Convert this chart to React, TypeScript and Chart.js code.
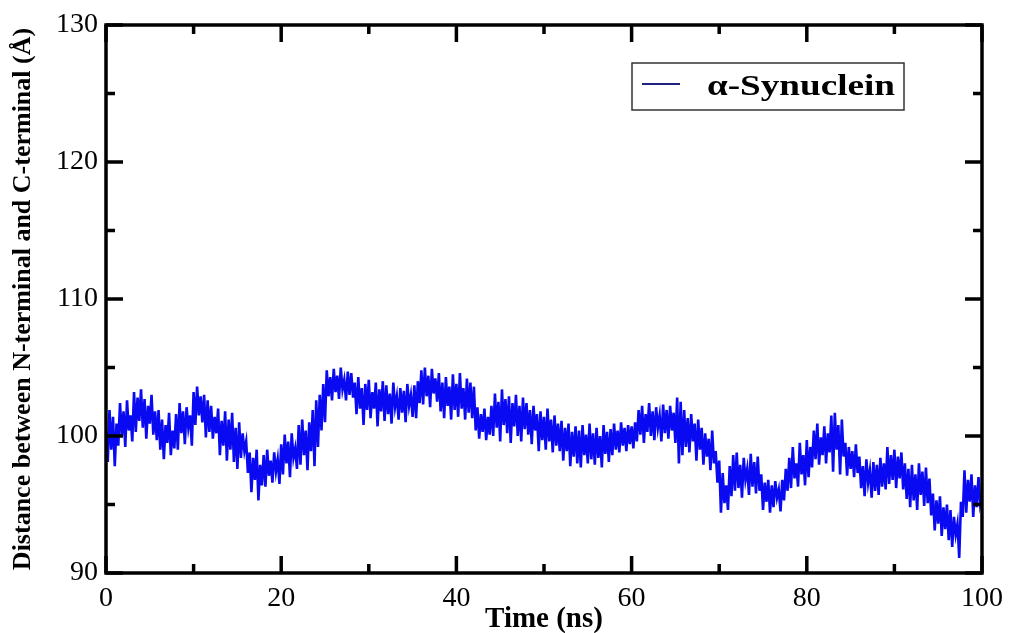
import React, { useEffect, useRef } from "react";
import { Chart, registerables } from "chart.js";

Chart.register(...registerables);

// Sampling interval of the trajectory (ns)
const SAMPLE_STEP = 0.2;

// End-to-end distance (Å), one value per SAMPLE_STEP from 0 to 100 ns (10 values = 2 ns per row)
const distanceValues: number[] = [
  100.2, 98.1, 101.9, 99.0, 101.4, 97.8, 100.9, 99.3, 102.4, 100.0,
  101.8, 99.2, 102.6, 100.4, 101.5, 99.6, 103.2, 100.3, 102.8, 101.1,
  103.4, 100.6, 102.7, 99.8, 102.2, 100.9, 103.0, 100.1, 101.8, 99.7,
  101.9, 99.0, 101.2, 98.3, 100.8, 99.5, 101.7, 98.6, 100.4, 99.1,
  101.6, 99.0, 102.4, 100.2, 101.8, 99.4, 102.1, 100.6, 101.5, 99.3,
  103.2, 100.8, 103.6, 101.5, 102.9, 101.0, 103.0, 99.9, 102.6, 100.3,
  102.2, 99.8, 101.4, 100.2, 102.0, 98.6, 101.1, 99.3, 101.8, 98.2,
  101.2, 99.0, 101.7, 98.1, 100.6, 97.6, 101.0, 98.4, 100.2, 98.9,
  99.6, 97.3, 98.8, 95.9, 98.4, 96.8, 99.0, 95.3, 97.9, 96.4,
  98.6, 96.3, 99.0, 97.1, 98.2, 96.6, 98.8, 97.4, 98.3, 96.5,
  99.4, 97.2, 100.1, 98.0, 99.6, 97.0, 100.2, 98.4, 99.1, 97.6,
  100.8, 97.9, 101.2, 98.6, 100.4, 97.5, 101.0, 98.9, 101.9, 97.8,
  102.6, 99.2, 103.0, 100.4, 103.8, 101.0, 104.8, 102.9, 104.3, 102.6,
  104.9, 103.2, 104.4, 102.7, 105.0, 103.4, 104.1, 102.6, 104.7, 103.0,
  104.6, 102.8, 103.9, 101.6, 104.3, 102.0, 103.5, 100.8, 103.8, 101.9,
  104.1, 101.3, 103.2, 102.0, 103.9, 100.7, 103.4, 101.8, 104.0, 101.1,
  103.7, 101.6, 103.1, 100.9, 103.9, 102.1, 102.9, 101.2, 103.5, 101.7,
  103.3, 101.0, 103.8, 102.2, 103.0, 101.4, 103.7, 101.3, 104.0, 102.4,
  104.8, 102.3, 105.0, 102.9, 104.4, 102.1, 104.9, 103.1, 104.2, 102.5,
  104.6, 101.8, 103.9, 101.3, 104.3, 102.2, 103.6, 101.2, 104.5, 101.9,
  103.8, 101.4, 104.6, 102.0, 103.5, 101.2, 104.2, 101.7, 103.9, 101.3,
  103.6, 100.4, 102.1, 99.8, 101.6, 100.3, 102.0, 99.7, 101.4, 100.1,
  102.2, 100.0, 103.1, 100.6, 102.5, 99.6, 103.4, 100.8, 102.7, 100.2,
  102.9, 99.5, 102.4, 100.7, 103.0, 100.0, 102.2, 99.6, 102.8, 100.5,
  102.4, 100.1, 101.9, 99.4, 102.2, 100.4, 101.6, 98.9, 101.8, 99.7,
  101.4, 99.0, 102.0, 99.6, 101.2, 98.8, 101.5, 99.3, 100.9, 98.9,
  101.1, 98.2, 100.6, 98.9, 100.9, 97.8, 100.3, 98.5, 100.7, 98.0,
  100.4, 97.7, 100.8, 98.6, 100.1, 98.0, 100.9, 98.3, 100.2, 97.9,
  100.6, 98.4, 100.0, 97.7, 100.8, 98.7, 100.3, 98.1, 100.5, 98.6,
  100.9, 99.0, 100.4, 98.8, 101.0, 99.3, 100.6, 98.9, 100.8, 99.4,
  100.7, 99.1, 101.0, 99.6, 101.9, 100.1, 102.2, 99.5, 101.6, 100.3,
  102.4, 100.0, 101.8, 99.7, 102.1, 100.6, 101.5, 99.6, 102.3, 100.2,
  101.9, 99.8, 102.2, 100.4, 101.7, 99.5, 102.8, 98.0, 102.5, 98.6,
  101.9, 99.2, 101.3, 98.8, 101.6, 99.6, 100.9, 98.2, 101.2, 99.0,
  100.6, 97.9, 100.2, 98.5, 99.8, 97.5, 100.4, 98.0, 98.9, 96.6,
  98.2, 94.4, 97.3, 95.1, 96.4, 94.6, 97.8, 95.6, 98.6, 96.0,
  98.8, 96.2, 97.9, 95.5, 98.4, 96.8, 97.6, 95.7, 98.7, 96.3,
  98.1, 95.8, 98.5, 96.0, 97.2, 94.6, 96.6, 95.2, 96.8, 94.4,
  96.4, 94.8, 96.7, 95.5, 96.1, 94.5, 96.8, 95.3, 97.6, 96.0,
  98.4, 96.2, 99.2, 96.9, 98.0, 96.3, 99.5, 97.2, 98.6, 96.4,
  99.7, 97.0, 99.2, 97.7, 100.4, 98.3, 100.9, 97.9, 99.9, 98.6,
  100.7, 98.0, 100.2, 98.8, 101.5, 97.4, 101.7, 99.0, 100.8, 97.2,
  101.2, 98.5, 99.5, 97.1, 99.2, 97.6, 98.9, 97.0, 99.4, 97.3,
  98.5, 96.2, 97.8, 95.6, 98.3, 96.6, 97.5, 95.5, 98.1, 96.0,
  97.9, 95.7, 98.4, 96.3, 98.0, 96.1, 99.2, 96.5, 98.6, 96.8,
  99.0, 96.2, 98.5, 96.9, 98.8, 96.1, 98.0, 95.4, 97.6, 94.8,
  97.9, 95.3, 97.2, 94.6, 98.0, 95.7, 97.4, 94.9, 97.7, 95.1,
  96.9, 94.2, 95.8, 93.1, 95.3, 93.6, 95.6, 92.7, 94.8, 93.2,
  95.0, 92.4, 94.6, 91.9, 94.1, 92.8, 93.6, 91.1, 95.2, 94.1,
  97.5, 94.4, 96.8, 95.2, 97.2, 94.1, 96.4, 94.8, 97.0, 95.0,
  95.6,
];

const SERIES_LABEL = "α-Synuclein";
const X_TITLE = "Time (ns)";
const Y_TITLE = "Distance between N-terminal and C-terminal (Å)";

const X_MAJOR_TICKS = [0, 20, 40, 60, 80, 100];
const X_MINOR_TICKS = [10, 30, 50, 70, 90];
const Y_MAJOR_TICKS = [90, 100, 110, 120, 130];
const Y_MINOR_TICKS = [95, 105, 115, 125];

const SERIF = "'Liberation Serif', 'Times New Roman', serif";

const frameTicksPlugin = {
  id: "frameTicks",
  afterDatasetsDraw(chart: any) {
    const { ctx, chartArea, scales } = chart;
    const { left, right, top, bottom } = chartArea;
    const x = scales.x;
    const y = scales.y;
    const major = 17;
    const minor = 9;
    ctx.save();
    ctx.strokeStyle = "#000";
    ctx.lineWidth = 3.5;
    ctx.lineCap = "butt";
    const vTick = (v: number, len: number) => {
      const px = x.getPixelForValue(v);
      ctx.beginPath();
      ctx.moveTo(px, bottom);
      ctx.lineTo(px, bottom - len);
      ctx.moveTo(px, top);
      ctx.lineTo(px, top + len);
      ctx.stroke();
    };
    const hTick = (v: number, len: number) => {
      const py = y.getPixelForValue(v);
      ctx.beginPath();
      ctx.moveTo(left, py);
      ctx.lineTo(left + len, py);
      ctx.moveTo(right, py);
      ctx.lineTo(right - len, py);
      ctx.stroke();
    };
    X_MAJOR_TICKS.forEach((v) => vTick(v, major));
    X_MINOR_TICKS.forEach((v) => vTick(v, minor));
    Y_MAJOR_TICKS.forEach((v) => hTick(v, major));
    Y_MINOR_TICKS.forEach((v) => hTick(v, minor));
    ctx.strokeRect(left, top, right - left, bottom - top);
    ctx.restore();
  },
  afterDraw(chart: any) {
    const { ctx } = chart;
    const label = chart.data.datasets[0].label;
    ctx.save();
    const bx = 632;
    const by = 63;
    const bw = 272;
    const bh = 47;
    ctx.fillStyle = "#fff";
    ctx.fillRect(bx, by, bw, bh);
    ctx.strokeStyle = "#333";
    ctx.lineWidth = 1.5;
    ctx.strokeRect(bx, by, bw, bh);
    ctx.strokeStyle = "#202080";
    ctx.lineWidth = 2;
    ctx.beginPath();
    ctx.moveTo(642, 84);
    ctx.lineTo(680, 84);
    ctx.stroke();
    ctx.fillStyle = "#000";
    ctx.font = `bold 30px ${SERIF}`;
    ctx.textBaseline = "middle";
    ctx.textAlign = "left";
    const w = ctx.measureText(label).width;
    const targetW = 188;
    ctx.translate(707, 87);
    ctx.scale(targetW / w, 1);
    ctx.fillText(label, 0, 0);
    ctx.restore();
  },
};

export default function App() {
  const canvasRef = useRef<HTMLCanvasElement | null>(null);

  useEffect(() => {
    const canvas = canvasRef.current;
    if (!canvas) return;
    const points = distanceValues.map((v, i) => ({ x: i * SAMPLE_STEP, y: v }));
    const chart = new Chart(canvas, {
      type: "line",
      data: {
        datasets: [
          {
            label: SERIES_LABEL,
            data: points,
            borderColor: "#0a0af2",
            borderWidth: 2.6,
            pointRadius: 0,
            tension: 0,
            fill: false,
          },
        ],
      },
      options: {
        responsive: false,
        animation: false,
        layout: { padding: { left: 0, top: 25, right: 27, bottom: 0 } },
        plugins: {
          legend: { display: false },
          tooltip: { enabled: false },
        },
        scales: {
          x: {
            type: "linear",
            min: 0,
            max: 100,
            grid: { display: false, drawTicks: false },
            border: { display: false },
            ticks: {
              stepSize: 20,
              padding: 9,
              color: "#000",
              font: { family: SERIF, size: 28 },
              maxRotation: 0,
            },
            title: {
              display: true,
              text: X_TITLE,
              color: "#000",
              font: { family: SERIF, size: 29, weight: "bold" },
              padding: { top: 0, bottom: -4 },
            },
            afterFit(scale: any) {
              scale.height = 60;
            },
          },
          y: {
            type: "linear",
            min: 90,
            max: 130,
            grid: { display: false, drawTicks: false },
            border: { display: false },
            ticks: {
              stepSize: 10,
              padding: 8,
              color: "#000",
              font: { family: SERIF, size: 28 },
            },
            title: {
              display: true,
              text: Y_TITLE,
              color: "#000",
              font: { family: SERIF, size: 26, weight: "bold" },
              padding: { top: 8, bottom: 0 },
            },
            afterFit(scale: any) {
              scale.width = 106;
            },
          },
        },
      },
      plugins: [frameTicksPlugin],
    });
    return () => chart.destroy();
  }, []);

  return (
    <div style={{ position: "fixed", left: 0, top: 0, width: 1012, height: 633, background: "#fff" }}>
      <canvas ref={canvasRef} width={1012} height={633} />
    </div>
  );
}
